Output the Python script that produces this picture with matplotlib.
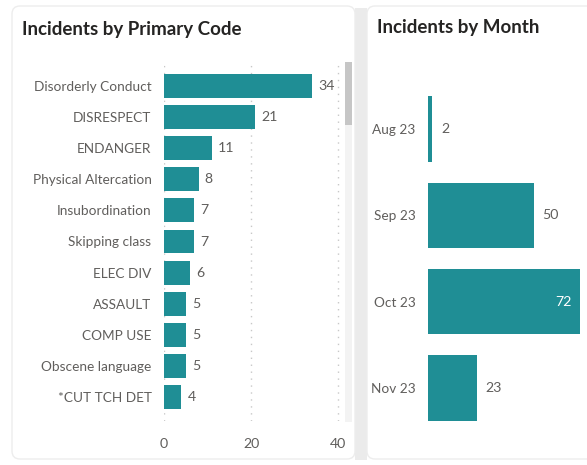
import matplotlib
matplotlib.use("Agg")
import matplotlib.pyplot as plt
from matplotlib.patches import FancyBboxPatch, Rectangle

plt.rcParams["font.family"] = ["Lato", "DejaVu Sans"]

# data
codes = ["Disorderly Conduct", "DISRESPECT", "ENDANGER", "Physical Altercation",
         "Insubordination", "Skipping class", "ELEC DIV", "ASSAULT", "COMP USE",
         "Obscene language", "*CUT TCH DET"]
code_counts = [34, 21, 11, 8, 7, 7, 6, 5, 5, 5, 4]
months = ["Aug 23", "Sep 23", "Oct 23", "Nov 23"]
month_counts = [2, 50, 72, 23]
x_ticks = [0, 20, 40]

TEAL = "#1F8E95"
LABEL = "#605E5C"
TITLE = "#252423"
FS = 9.8

W, H = 587, 465
fig = plt.figure(figsize=(W / 100, H / 100), dpi=100)
fig.patch.set_facecolor("white")


def px(x0, y0, x1, y1):
    """figure-fraction rect from pixel box (top-left origin)"""
    return [x0 / W, 1 - y1 / H, (x1 - x0) / W, (y1 - y0) / H]


# card backdrops
bg = fig.add_axes([0, 0, 1, 1], zorder=-1)
bg.set_xlim(0, W); bg.set_ylim(H, 0); bg.axis("off")
bg.add_patch(Rectangle((355, 8), 12, 452, color="#EBEBEB", lw=0))
bg.add_patch(FancyBboxPatch((12, 6), 343, 453, boxstyle="round,pad=0,rounding_size=8",
                            fc="white", ec="#EDEDED", lw=1))
bg.add_patch(FancyBboxPatch((367, 6), 230, 453, boxstyle="round,pad=0,rounding_size=8",
                            fc="white", ec="#EDEDED", lw=1))
# scrollbar track + thumb
bg.add_patch(Rectangle((345, 62), 7, 360, color="#F3F3F3", lw=0))
bg.add_patch(Rectangle((345, 62), 7, 63, color="#C6C6C6", lw=0))

fig.text(22 / W, 1 - 30 / H, "Incidents by Primary Code", fontsize=13.5,
         fontweight="bold", color=TITLE, va="center", ha="left")
fig.text(377 / W, 1 - 28 / H, "Incidents by Month", fontsize=13.5,
         fontweight="bold", color=TITLE, va="center", ha="left")

# left: incidents by primary code
ax = fig.add_axes(px(164, 62, 342, 421))
ax.barh(range(len(codes)), code_counts, height=0.77, color=TEAL)
ax.set_ylim(len(codes) - 1 + 0.77, -0.77)
ax.set_xlim(0, 40.9)
ax.set_yticks(range(len(codes)))
ax.set_yticklabels(codes)
ax.set_xticks(x_ticks)
for t in x_ticks:
    ax.axvline(t, color="#C8C8C8", lw=1, ls=(0, (1, 4)), zorder=0)
for i, v in enumerate(code_counts):
    ax.annotate(str(v), (v, i), xytext=(6, 0), textcoords="offset pixels",
                va="center", ha="left", fontsize=FS + 0.4, color=LABEL)
ax.tick_params(axis="y", length=0, pad=9, labelsize=FS, labelcolor=LABEL)
ax.tick_params(axis="x", length=0, pad=12, labelsize=FS + 0.4, labelcolor=LABEL)
for s in ax.spines.values():
    s.set_visible(False)
ax.set_facecolor("none")

# right: incidents by month
ax2 = fig.add_axes(px(428, 86, 580, 431))
ax2.barh(range(len(months)), month_counts, height=0.76, color=TEAL)
ax2.set_ylim(len(months) - 0.5, -0.5)
ax2.set_xlim(0, max(month_counts))
ax2.set_yticks(range(len(months)))
ax2.set_yticklabels(months)
ax2.set_xticks([])
top = max(month_counts)
for i, v in enumerate(month_counts):
    if v == top:
        ax2.annotate(str(v), (v, i), xytext=(-8, 0), textcoords="offset pixels",
                     va="center", ha="right", fontsize=FS + 0.4, color="white")
    else:
        ax2.annotate(str(v), (v, i), xytext=(9, 0), textcoords="offset pixels",
                     va="center", ha="left", fontsize=FS + 0.4, color=LABEL)
ax2.tick_params(axis="y", length=0, pad=9, labelsize=FS, labelcolor=LABEL)
for s in ax2.spines.values():
    s.set_visible(False)
ax2.set_facecolor("none")

fig.savefig("out.png", dpi=100)
